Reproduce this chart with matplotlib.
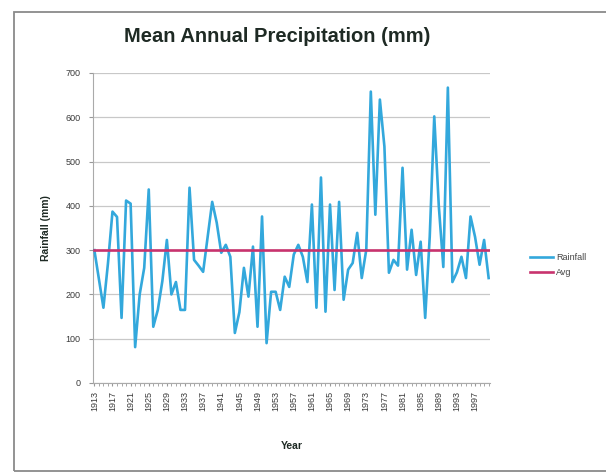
import matplotlib
matplotlib.use("Agg")
import matplotlib.pyplot as plt
from matplotlib.patches import Rectangle

plt.rcParams['font.family'] = ['Liberation Sans', 'DejaVu Sans']

years = list(range(1913, 2001))
rainfall = [300, 235, 170, 270, 387, 375, 147, 412, 405, 81,
            200, 260, 437, 127, 165, 230, 323, 200, 228, 165,
            165, 441, 278, 265, 251, 330, 409, 362, 294, 312,
            285, 113, 160, 260, 195, 308, 127, 376, 90, 206,
            206, 165, 240, 217, 290, 312, 285, 228, 403, 170,
            464, 161, 403, 210, 409, 188, 256, 271, 339, 237,
            301, 658, 380, 640, 534, 249, 278, 265, 486, 256,
            346, 244, 319, 147, 330, 602, 400, 262, 667, 228,
            250, 285, 237, 376, 330, 267, 323, 237]
avg_value = 300
avg = [avg_value] * len(years)
tick_years = list(range(1913, 2001, 4))
y_ticks = [0, 100, 200, 300, 400, 500, 600, 700]

fig = plt.figure(figsize=(6.06, 4.75), dpi=100)
fig.patch.set_facecolor("white")
fig.add_artist(Rectangle((14/606, 1-471/475), 620/606, 459/475, transform=fig.transFigure,
                         fill=False, edgecolor="#8a8a8a", linewidth=1.3))

ax = fig.add_axes([93/606, 1-383/475, 397/606, 310/475])
ax.plot(years, rainfall, color="#33a8dc", linewidth=1.9, label="Rainfall", zorder=3)
ax.plot(years, avg, color="#c8336e", linewidth=1.9, label="Avg", zorder=4)

ax.set_xlim(years[0] - 0.3, years[-1] + 0.3)
ax.set_ylim(0, 700)
ax.set_yticks(y_ticks)
ax.set_xticks(tick_years)
ax.set_xticks(years, minor=True)
ax.set_xticklabels([str(y) for y in tick_years], rotation=90, fontsize=6.5, color="#3a3a3a")
ax.tick_params(axis="y", labelsize=6.5, labelcolor="#3a3a3a", length=3, color="#999999", pad=6)
ax.tick_params(axis="x", which="both", length=2, color="#999999")
ax.grid(axis="y", color="#c8c8c8", linewidth=0.9)
ax.set_axisbelow(True)
for s in ["top", "right"]:
    ax.spines[s].set_visible(False)
ax.spines["left"].set_color("#aaaaaa")
ax.spines["bottom"].set_color("#aaaaaa")

fig.text(277/606, 1-37/475, "Mean Annual Precipitation (mm)", fontsize=14.5, fontweight="bold",
         color="#1e2a24", ha="center", va="center")
ax.set_ylabel("Rainfall (mm)", fontsize=7.5, fontweight="bold", color="#1e2a24", labelpad=10)
ax.set_xlabel("Year", fontsize=7.5, fontweight="bold", color="#1e2a24", labelpad=22)

leg = ax.legend(loc="center left", bbox_to_anchor=(1.08, 0.38), frameon=False, fontsize=6.5,
                handlelength=2.6, labelspacing=0.7, handletextpad=0.3)
for t in leg.get_texts():
    t.set_color("#444444")

fig.savefig("out.png", dpi=100)
